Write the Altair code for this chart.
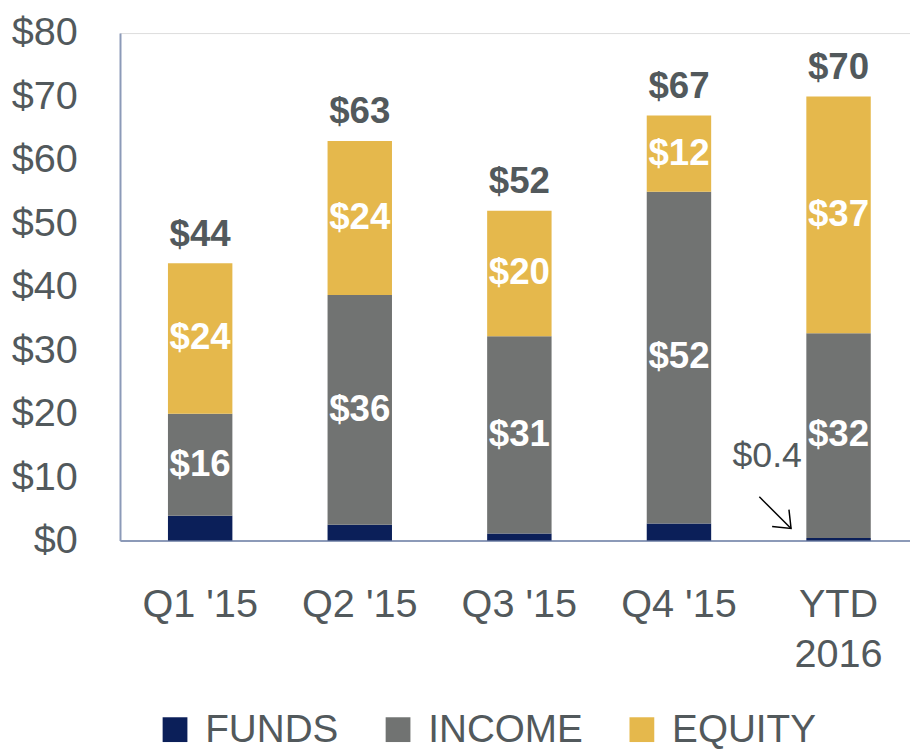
import altair as alt
import pandas as pd

categories = ["Q1 '15", "Q2 '15", "Q3 '15", "Q4 '15", "YTD 2016"]
series = ["FUNDS", "INCOME", "EQUITY"]
funds = [3.9, 2.5, 1.1, 2.7, 0.4]
income = [16.1, 36.2, 31.1, 52.3, 32.3]
equity = [23.7, 24.3, 19.8, 12.0, 37.3]
colors = ["#0B1F59", "#717372", "#E5B84C"]

TXT = "#52595C"
AX = "#8C9AB8"
FONT = "'Liberation Sans', Arial, sans-serif"
BOLD = "'Liberation Sans Narrow', 'Arial Narrow', 'Liberation Sans', sans-serif"

rows = []
for i, c in enumerate(categories):
    base = 0.0
    for k, (s, vals) in enumerate(zip(series, [funds, income, equity])):
        v = vals[i]
        rows.append({"cat": c, "series": s, "order": k, "value": v,
                     "mid": base + v / 2, "label": "$" + str(round(v))})
        base += v
df = pd.DataFrame(rows)

tot = pd.DataFrame({"cat": categories,
                    "total": [f + n + e for f, n, e in zip(funds, income, equity)]})
tot["label"] = ["$" + str(round(t)) for t in tot["total"]]

ann = pd.DataFrame({"cat": [categories[-1]], "y": [13.3], "label": ["$" + str(funds[-1])]})
arrow = pd.DataFrame({"y": [6.9], "y2": [1.9]})

xenc = alt.X("cat:N", sort=categories, title=None,
             scale=alt.Scale(paddingInner=0.596, paddingOuter=0.273, align=0.55),
             axis=alt.Axis(labelAngle=0, labelFontSize=40, labelFont=FONT, labelColor=TXT,
                           labelPadding=45, ticks=False, tickSize=0, domainColor=AX,
                           domainWidth=2, labelLineHeight=50,
                           labelExpr="split(datum.label, ' 2')[0] == datum.label ? datum.label : ['YTD', '2016']"))
yscale = alt.Scale(domain=[0, 80])

bars = alt.Chart(df).mark_bar(size=65).encode(
    x=xenc,
    y=alt.Y("value:Q", stack="zero", scale=yscale, title=None,
            axis=alt.Axis(values=list(range(0, 81, 10)), labelExpr="'$' + datum.value",
                          labelFontSize=40, labelFont=FONT, labelColor=TXT, labelPadding=43,
                          ticks=False, tickSize=0, grid=False, domainColor=AX, domainWidth=2)),
    color=alt.Color("series:N", sort=series,
                    scale=alt.Scale(domain=series, range=colors),
                    legend=alt.Legend(title=None, orient="none", direction="horizontal",
                                      legendX=36, legendY=683, symbolType="square",
                                      symbolSize=625, symbolStrokeWidth=0, labelFontSize=39,
                                      labelFont=FONT, labelColor=TXT, labelOffset=11,
                                      labelLimit=0, columnPadding=40, padding=0)),
    order=alt.Order("order:Q"),
)

seg_labels = alt.Chart(df).transform_filter("datum.series != 'FUNDS'").mark_text(
    font=BOLD, fontWeight="bold", fontSize=37, color="white", baseline="middle"
).encode(x=alt.X("cat:N", sort=categories), y=alt.Y("mid:Q", scale=yscale), text="label:N")

tot_labels = alt.Chart(tot).mark_text(
    font=BOLD, fontWeight="bold", fontSize=37, color=TXT, baseline="bottom", dy=-10
).encode(x=alt.X("cat:N", sort=categories), y=alt.Y("total:Q", scale=yscale), text="label:N")

ann_text = alt.Chart(ann).mark_text(
    font=FONT, fontSize=36, color=TXT, baseline="middle", align="center", dx=-72
).encode(x=alt.X("cat:N", sort=categories), y=alt.Y("y:Q", scale=yscale), text="label:N")

arrow_line = alt.Chart(arrow).mark_rule(color="black", strokeWidth=1.5).encode(
    x=alt.value(645), x2=alt.value(677), y=alt.Y("y:Q", scale=yscale), y2="y2:Q")

arrow_head = alt.Chart(arrow).mark_point(
    shape="M -1 -0.8 L 0 0 L -1 0.8", filled=False, color="black", strokeWidth=1.5,
    size=900, angle=45, opacity=1
).encode(x=alt.value(677), y=alt.Y("y2:Q", scale=yscale))

chart = alt.layer(bars, seg_labels, tot_labels, ann_text, arrow_line, arrow_head).properties(
    width=797, height=512,
    autosize=alt.AutoSizeParams(type="none"),
    padding={"left": 113, "top": 22, "right": 0, "bottom": 211},
).configure_view(stroke=None).configure(background="white")

chart.save("out.html", embed_options={"renderer": "svg", "actions": False})
